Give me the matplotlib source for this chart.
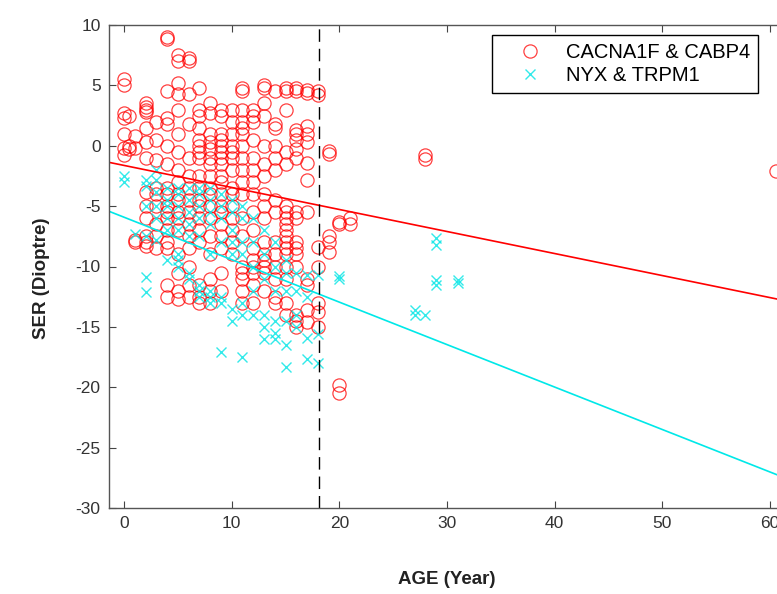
import matplotlib
matplotlib.use("Agg")
import matplotlib.pyplot as plt
import numpy as np

plt.rcParams["axes.unicode_minus"] = False

# ---------------- data ----------------
red_ages = {
    0:   [5.5, 5.0, 2.7, 2.3, 1.0, -0.2, -0.8],
    0.5: [2.5, 0.0, -0.3],
    1:   [-8.0, -7.8, 0.8, -0.2],
    2:   [3.5, 3.2, 3.0, 2.8, 1.5, 0.3, -1.0, -3.8, -5.0, -6.0, -7.5, -8.0, -8.3],
    3:   [2.0, 0.5, -1.2, -3.5, -4.0, -5.0, -6.5, -7.5, -8.5],
    4:   [9.0, 8.8, 4.5, 2.3, 1.8, 0.0, -1.5, -3.5, -4.0, -5.0, -5.5, -6.0, -7.0, -8.0, -8.5, -11.5, -12.5],
    5:   [7.5, 7.0, 5.2, 4.3, 3.0, 1.0, -0.5, -2.0, -3.0, -4.0, -4.5, -5.5, -6.0, -7.0, -9.0, -10.5, -12.0, -12.7],
    6:   [7.3, 7.0, 4.3, 1.8, -1.0, -2.5, -3.5, -4.5, -5.5, -6.5, -7.5, -8.5, -10.0, -11.5, -12.5],
    7:   [4.8, 3.0, 2.5, 1.5, 0.5, 0.0, -0.5, -1.0, -2.5, -3.5, -4.5, -5.0, -6.0, -7.0, -8.0, -11.5, -12.5, -13.0],
    8:   [3.5, 2.7, 1.0, 0.3, -0.3, -1.0, -1.5, -2.5, -3.5, -4.0, -5.0, -6.0, -7.5, -9.0, -11.0, -12.0, -13.0],
    9:   [3.0, 2.5, 1.0, 0.5, 0.0, -0.5, -1.0, -1.5, -2.5, -3.0, -4.0, -5.0, -5.5, -6.5, -7.5, -8.5, -10.5, -12.0],
    10:  [3.0, 2.0, 1.0, 0.0, -0.5, -1.0, -2.0, -3.5, -4.0, -5.0, -6.0, -7.0, -8.0, -9.0],
    11:  [4.8, 4.5, 3.0, 2.0, 1.5, 1.0, 0.0, -1.0, -2.0, -3.0, -4.0, -6.0, -7.5, -10.0, -10.5, -11.0, -12.0, -13.0],
    12:  [3.0, 2.5, 2.0, 0.5, -1.0, -2.0, -3.0, -4.0, -5.5, -7.0, -8.5, -9.5, -10.0, -10.5, -11.5, -13.0],
    13:  [5.0, 4.8, 3.5, 2.5, 0.0, -1.5, -2.5, -4.0, -5.0, -6.0, -8.0, -9.0, -9.5, -10.0, -10.5, -12.0],
    14:  [4.5, 1.8, 1.5, 0.0, -1.0, -2.0, -4.5, -5.5, -8.0, -9.0, -10.0, -11.0, -12.5, -13.0],
    15:  [4.8, 4.5, 3.0, -0.5, -1.5, -5.0, -5.5, -6.0, -6.5, -7.0, -7.5, -8.0, -8.5, -9.0, -10.0, -11.0, -13.0, -14.0],
    16:  [4.8, 4.5, 1.3, 1.0, 0.5, -0.3, -1.0, -5.5, -6.0, -8.0, -8.5, -9.0, -10.0, -14.0, -14.5, -15.0],
    17:  [4.6, 4.4, 1.6, 1.0, 0.3, -1.4, -2.8, -5.5, -11.0, -11.5, -13.6, -14.6],
    18:  [4.5, 4.2, -8.4, -10.0, -13.0, -13.8, -15.0],
    19:  [-0.4, -0.7, -7.5, -8.0, -8.8],
    20:  [-6.5, -6.3, -19.8, -20.5],
    21:  [-6.0, -6.5],
    28:  [-0.8, -1.1],
    60.6: [-2.1],
}

cyan_ages = {
    0:  [-2.5, -3.0],
    1:  [-7.3],
    2:  [-2.8, -3.3, -5.0, -7.5, -10.9, -12.1],
    3:  [-2.0, -2.8, -3.8, -5.0, -6.0, -7.8],
    4:  [-3.5, -4.5, -5.0, -6.0, -7.0, -9.5],
    5:  [-3.5, -4.0, -5.0, -6.0, -7.0, -9.0, -9.5, -10.0],
    6:  [-3.5, -4.5, -5.5, -6.5, -7.5, -10.5, -11.0],
    7:  [-3.5, -4.0, -5.0, -6.0, -7.5, -11.5, -12.0, -12.5],
    8:  [-3.5, -4.5, -5.5, -6.5, -9.0, -12.0, -12.5, -13.0],
    9:  [-4.0, -5.0, -6.0, -8.0, -12.5, -13.0, -17.1],
    10: [-4.5, -5.5, -7.0, -8.0, -9.0, -13.5, -14.5],
    11: [-5.0, -6.0, -8.0, -9.0, -13.0, -14.0, -17.5],
    12: [-6.0, -8.0, -10.0, -12.0, -14.0],
    13: [-7.0, -9.0, -11.0, -14.0, -15.0, -16.0],
    14: [-8.0, -10.0, -12.0, -14.5, -15.5, -16.0],
    15: [-9.5, -10.5, -12.0, -14.5, -16.5, -18.3],
    16: [-10.5, -12.0, -14.0, -15.0],
    17: [-10.7, -12.5, -15.9, -17.7],
    18: [-10.7, -15.6, -18.0],
    20: [-10.8, -11.0],
    27: [-13.6, -14.0],
    28: [-14.0],
    29: [-7.6, -8.2, -11.1, -11.5],
    31: [-11.1, -11.4],
}

red_fit = (-0.1824, -1.63)     # slope, intercept
cyan_fit = (-0.3516, -5.92)
cutoff_age = 18.1

series_labels = ["CACNA1F & CABP4", "NYX & TRPM1"]
x_label = "AGE (Year)"
y_label = "SER (Dioptre)"
x_ticks = [0, 10, 20, 30, 40, 50, 60]
y_ticks = [-30, -25, -20, -15, -10, -5, 0, 5, 10]

red_x = np.array([a for a, v in red_ages.items() for _ in v], float)
red_y = np.array([y for v in red_ages.values() for y in v], float)
cy_x = np.array([a for a, v in cyan_ages.items() for _ in v], float)
cy_y = np.array([y for v in cyan_ages.values() for y in v], float)

# ---------------- figure ----------------
W, H = 777, 594
fig = plt.figure(figsize=(W / 100, H / 100), dpi=100)
ax = fig.add_axes([109 / W, 1 - 508 / H, (785 - 109) / W, (508 - 25) / H])
ax.set_xlim(-1.4, 61.4)
ax.set_ylim(-30, 10)

red_col = "#ff0000"
cy_col = "#00e5e5"

ax.plot(red_x, red_y, linestyle="none", marker="o", markersize=9.5,
        markerfacecolor="none", markeredgecolor=red_col, markeredgewidth=0.9,
        alpha=0.75, label=series_labels[0])
ax.plot(cy_x, cy_y, linestyle="none", marker="x", markersize=7,
        markeredgecolor=cy_col, markeredgewidth=1.0, alpha=0.8,
        label=series_labels[1])

xx = np.array([-1.4, 61.4])
ax.plot(xx, red_fit[0] * xx + red_fit[1], color=red_col, linewidth=1.2)
ax.plot(xx, cyan_fit[0] * xx + cyan_fit[1], color="#00e8e8", linewidth=1.2)
ax.axvline(cutoff_age, color="black", linewidth=1.0, linestyle=(0, (9, 5)))

ax.set_xticks(x_ticks)
ax.set_yticks(y_ticks)
tick_font = ["Liberation Sans Narrow", "Liberation Sans", "DejaVu Sans"]
ax.tick_params(direction="in", top=True, right=True, length=5, width=0.8,
               color="#444444", labelsize=12.5, labelcolor="#333333", pad=6)
for lab in ax.get_xticklabels() + ax.get_yticklabels():
    lab.set_family(tick_font)
for s in ax.spines.values():
    s.set_color("#555555")
    s.set_linewidth(1.0)

ax.set_xlabel(x_label, fontsize=13.5, fontweight="bold",
              family=tick_font, color="#222222")
ax.xaxis.set_label_coords((447 - 109) / (785 - 109), -(571 - 508) / (508 - 25))
ax.set_ylabel(y_label, fontsize=13.5, fontweight="bold",
              family=tick_font, color="#222222")
ax.yaxis.set_label_coords(-(109 - 50) / (785 - 109), (508 - 278) / (508 - 25))

leg = ax.legend(loc="upper left", bbox_to_anchor=(492 / W, 1 - 35 / H),
                bbox_transform=fig.transFigure, borderaxespad=0,
                fancybox=False, edgecolor="black", framealpha=1,
                handlelength=3.0, handletextpad=0.25, labelspacing=0.2,
                borderpad=0.4, prop={"family": ["Liberation Sans", "DejaVu Sans"], "size": 14.5})
leg.get_frame().set_linewidth(1.0)

fig.savefig("out.png", dpi=100)
